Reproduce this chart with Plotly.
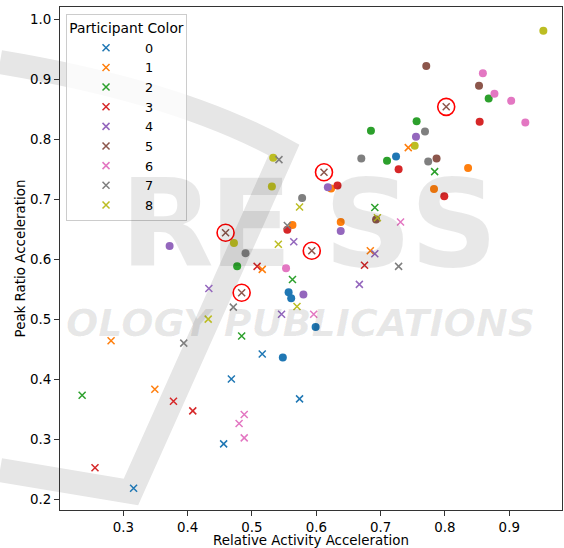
import plotly.graph_objects as go

# ---------------- data ----------------
participants = ["0", "1", "2", "3", "4", "5", "6", "7", "8"]
colors = ["#1f77b4", "#ff7f0e", "#2ca02c", "#d62728", "#9467bd",
          "#8c564b", "#e377c2", "#7f7f7f", "#bcbd22"]

# "x" markers (one list per participant)
cross_x = [
    [0.516, 0.468, 0.574, 0.456, 0.316],
    [0.743, 0.684, 0.516, 0.281, 0.349],
    [0.784, 0.691, 0.563, 0.484, 0.236],
    [0.675, 0.508, 0.378, 0.408, 0.256],
    [0.565, 0.691, 0.667, 0.433, 0.546],
    [0.802, 0.612, 0.459, 0.593, 0.484],
    [0.731, 0.596, 0.488, 0.480, 0.488],
    [0.542, 0.555, 0.728, 0.471, 0.394],
    [0.574, 0.541, 0.695, 0.570, 0.432],
]
cross_y = [
    [0.442, 0.400, 0.367, 0.292, 0.218],
    [0.786, 0.614, 0.583, 0.464, 0.383],
    [0.746, 0.686, 0.566, 0.472, 0.373],
    [0.590, 0.588, 0.363, 0.347, 0.252],
    [0.629, 0.609, 0.558, 0.551, 0.508],
    [0.854, 0.745, 0.644, 0.614, 0.544],
    [0.662, 0.508, 0.341, 0.326, 0.302],
    [0.766, 0.656, 0.588, 0.520, 0.460],
    [0.687, 0.625, 0.669, 0.521, 0.500],
]

# filled circle markers (one list per participant)
dot_x = [
    [0.724, 0.557, 0.561, 0.599, 0.548],
    [0.836, 0.623, 0.783, 0.638, 0.563],
    [0.868, 0.756, 0.685, 0.710, 0.477],
    [0.854, 0.728, 0.633, 0.799, 0.555],
    [0.755, 0.618, 0.638, 0.372, 0.580],
    [0.771, 0.853, 0.787, 0.693],
    [0.859, 0.877, 0.903, 0.925, 0.553],
    [0.769, 0.670, 0.774, 0.578, 0.490],
    [0.953, 0.753, 0.533, 0.531, 0.472],
]
dot_y = [
    [0.771, 0.545, 0.535, 0.487, 0.436],
    [0.752, 0.718, 0.717, 0.662, 0.657],
    [0.868, 0.830, 0.814, 0.764, 0.588],
    [0.829, 0.750, 0.723, 0.705, 0.649],
    [0.804, 0.720, 0.647, 0.622, 0.541],
    [0.922, 0.889, 0.768, 0.666],
    [0.910, 0.876, 0.864, 0.828, 0.585],
    [0.813, 0.768, 0.763, 0.702, 0.610],
    [0.981, 0.789, 0.769, 0.721, 0.627],
]

highlight_participant = 5  # its "x" markers are circled in red

x_ticks = [0.3, 0.4, 0.5, 0.6, 0.7, 0.8, 0.9]
y_ticks = [0.2, 0.3, 0.4, 0.5, 0.6, 0.7, 0.8, 0.9, 1.0]
x_label = "Relative Activity Acceleration"
y_label = "Peak Ratio Acceleration"
legend_title = "Participant Color"

# ---------------- figure ----------------
FONT = "DejaVu Sans"
fig = go.Figure()

for i, name in enumerate(participants):
    fig.add_trace(go.Scatter(
        x=dot_x[i], y=dot_y[i], mode="markers", showlegend=False,
        marker=dict(symbol="circle", size=8, color=colors[i], line=dict(width=0)),
        hoverinfo="skip"))

for i, name in enumerate(participants):
    fig.add_trace(go.Scatter(
        x=cross_x[i], y=cross_y[i], mode="markers", name=name,
        marker=dict(symbol="x-thin", size=7, color=colors[i],
                    line=dict(width=1.5, color=colors[i]))))

fig.add_trace(go.Scatter(
    x=cross_x[highlight_participant], y=cross_y[highlight_participant],
    mode="markers", showlegend=False,
    marker=dict(symbol="circle-open", size=17, color="red",
                line=dict(width=1.6, color="red"))))

# ---- watermark (light grey publisher logo) ----
def px2paper(px, py):
    return (px - 60) / 502.0, (510 - py) / 503.0

pts = [(0, 62), (180, 92), (284, 150), (131, 492), (0, 470)]
pp = [px2paper(a, b) for a, b in pts]
path = "M {:.4f},{:.4f} Q {:.4f},{:.4f} {:.4f},{:.4f} L {:.4f},{:.4f} L {:.4f},{:.4f}".format(
    pp[0][0], pp[0][1], pp[1][0], pp[1][1], pp[2][0], pp[2][1],
    pp[3][0], pp[3][1], pp[4][0], pp[4][1])
fig.add_shape(type="path", path=path, xref="paper", yref="paper",
              line=dict(color="#e6e6e6", width=24), layer="below")

wm_letters = ["R", "E", "S", "S"]
wm_centers = [118, 250, 368, 500]
for ch, cx in zip(wm_letters, wm_centers):
    ax, ay = px2paper(cx, 224)
    fig.add_annotation(text="<b>" + ch + "</b>", x=ax, y=ay, xref="paper", yref="paper",
                       showarrow=False, font=dict(family=FONT, size=122,
                                                  color="rgba(0,0,0,0.09)"))
ax, ay = px2paper(300, 323)
fig.add_annotation(text="<b><i>OLOGY PUBLICATIONS</i></b>", x=ax, y=ay,
                   xref="paper", yref="paper", showarrow=False,
                   font=dict(family=FONT, size=38, color="rgba(0,0,0,0.09)"))

axis_common = dict(showline=True, linecolor="#333333", linewidth=1, mirror=True,
                   ticks="outside", ticklen=5, tickwidth=1, tickcolor="#333333",
                   showgrid=False, zeroline=False,
                   tickfont=dict(family=FONT, size=13.4, color="black"))

fig.update_layout(
    width=564, height=548,
    margin=dict(l=60, r=2, t=7, b=38),
    paper_bgcolor="white", plot_bgcolor="white",
    font=dict(family=FONT, size=13.4, color="black"),
    xaxis=dict(range=[0.2016, 0.982], tickvals=x_ticks, tickformat=".1f",
               title=dict(text=x_label, standoff=3,
                          font=dict(family=FONT, size=13.4)), **axis_common),
    yaxis=dict(range=[0.1817, 1.0205], tickvals=y_ticks, tickformat=".1f",
               title=dict(text=y_label, standoff=1,
                          font=dict(family=FONT, size=13.4)), **axis_common),
    legend=dict(x=0.012, y=0.986, xanchor="left", yanchor="top",
                bgcolor="rgba(255,255,255,0.8)", bordercolor="#cccccc", borderwidth=1,
                font=dict(family=FONT, size=12.8),
                title=dict(text=legend_title, side="top center",
                           font=dict(family=FONT, size=13.8)),
                itemwidth=68),
)

fig.write_html("out.html",
               config={"displayModeBar": False},
               post_script="document.body.style.margin='0px';"
                           "document.body.style.overflow='hidden';")
